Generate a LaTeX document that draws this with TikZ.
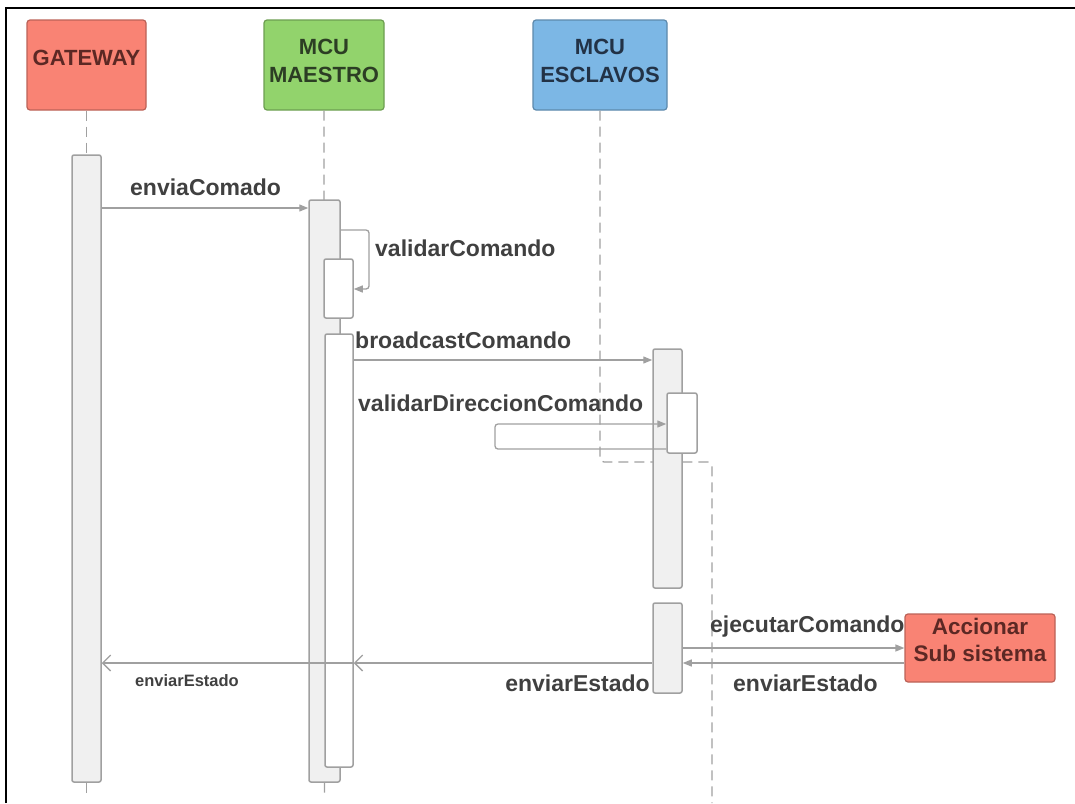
\documentclass[tikz,border=0pt]{standalone}
\usepackage{fontspec}
\setmainfont{Liberation Sans}
\usetikzlibrary{arrows.meta}

\definecolor{salmon}{RGB}{249,131,116}
\definecolor{mastergreen}{RGB}{146,211,108}
\definecolor{slaveblue}{RGB}{124,183,229}
\definecolor{redink}{RGB}{92,40,36}
\definecolor{greenink}{RGB}{44,62,36}
\definecolor{blueink}{RGB}{34,50,70}
\definecolor{wire}{RGB}{160,160,160}
\definecolor{bartint}{RGB}{240,240,240}
\definecolor{ink}{RGB}{64,64,64}

\begin{document}
\begin{tikzpicture}[x=1pt, y=-1pt,
    head/.style={draw=#1!75!black, fill=#1, rounded corners=3pt, line width=1.2pt,
      minimum height=90pt, inner sep=0pt, align=center,
      font=\bfseries\fontsize{22}{28}\selectfont},
    lifeline/.style={wire, line width=1.3pt, dash pattern=on 10pt off 6pt},
    bar/.style={draw=wire, fill=bartint, rounded corners=2pt, line width=1.5pt, inner sep=0pt},
    subbar/.style={bar, fill=white},
    msg/.style={wire, line width=1.3pt, -{Triangle[length=9pt, width=7pt]}},
    reply/.style={wire, line width=1.3pt, -{Straight Barb[length=8pt, width=16pt]}},
    lbl/.style={text=ink, inner sep=0pt, font=\bfseries\fontsize{23}{26}\selectfont}
  ]
  \useasboundingbox (0,0) rectangle (1075,803);
  \draw[line width=2.5pt] (6,803) -- (6,8) -- (1075,8); % frame, left and top only

  \node[head=salmon, text=redink, minimum width=119pt, text depth=14pt] (gw) at (86.5,65) {GATEWAY};
  \node[head=mastergreen, text=greenink, minimum width=120pt, text depth=8pt] (mst) at (324,65) {MCU\\MAESTRO};
  \node[head=slaveblue, text=blueink, minimum width=134pt, text depth=8pt] (esc) at (600,65) {MCU\\ESCLAVOS};

  \draw[lifeline] (gw.south) -- (86.5,797);
  \draw[lifeline] (mst.south) -- (324.5,797);
  \draw[lifeline, rounded corners=4pt] (esc.south) -- (600,462) -- (712,462) -- (712,803);

  \node[bar, minimum width=29pt, minimum height=627pt] (gwbar) at (86.5,468.5) {};
  \node[bar, minimum width=31pt, minimum height=582pt] (mbar) at (324.5,491) {};
  \node[subbar, minimum width=29pt, minimum height=59pt] (mval) at (338.5,288.5) {};
  \node[subbar, minimum width=28pt, minimum height=433pt] (mbc) at (339,550.5) {};
  \node[bar, minimum width=29pt, minimum height=239pt] (ebar) at (667.5,468.5) {};
  \node[subbar, minimum width=30pt, minimum height=60pt] (eval) at (682,423) {};
  \node[bar, minimum width=29pt, minimum height=90pt] (ebarb) at (667.5,648) {};
  \node[head=salmon, text=redink, minimum width=150pt, minimum height=68pt, text depth=16pt,
    font=\bfseries\fontsize{22.5}{27}\selectfont] (sub) at (980,648) {Accionar\\Sub sistema};

  % message levels
  \coordinate (m1) at (0,208);
  \coordinate (m2a) at (0,230);
  \coordinate (m2b) at (0,289);
  \coordinate (m3) at (0,360);
  \coordinate (m4a) at (0,424);
  \coordinate (m4b) at (0,449);
  \coordinate (m5) at (0,648);
  \coordinate (m6) at (0,663);

  \draw[msg] (gwbar.east |- m1) -- (mbar.west |- m1);
  \draw[msg, rounded corners=3pt] (mbar.east |- m2a) -- (369,230) -- (369,289) -- (mval.east |- m2b);
  \draw[msg] (mbc.east |- m3) -- (ebar.west |- m3);
  \draw[msg, rounded corners=3pt] (eval.west |- m4b) -- (495,449) -- (495,424) -- (eval.west |- m4a);
  \draw[msg] (ebarb.east |- m5) -- (sub.west |- m5);
  \draw[msg] (sub.west |- m6) -- (ebarb.east |- m6);
  \draw[reply] (ebarb.west |- m6) -- (mbc.east |- m6);
  \draw[reply] (mbc.east |- m6) -- (gwbar.east |- m6);

  \node[lbl, anchor=west] (l1) at (130,187) {enviaComado};
  \node[lbl, anchor=west] (l2) at (375,248) {validarComando};
  \node[lbl, anchor=west] (l3) at (355,340) {broadcastComando};
  \node[lbl, anchor=west] (l4) at (358,403) {validarDireccionComando};
  \node[lbl, anchor=west] (l5) at (710,627) {ejecutarComando};
  \node[lbl, anchor=west] (l6) at (733,683) {enviarEstado};
  \node[lbl, anchor=east] (l7) at (650,683) {enviarEstado};
  \node[lbl, anchor=west, font=\bfseries\fontsize{16.5}{19}\selectfont] (l8) at (135,681) {enviarEstado};
\end{tikzpicture}
\end{document}
